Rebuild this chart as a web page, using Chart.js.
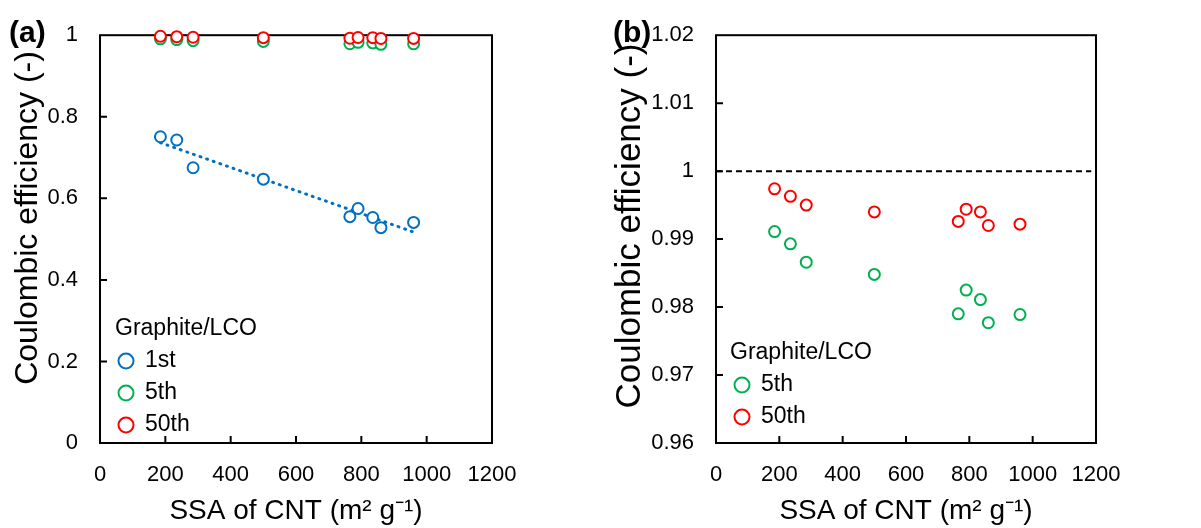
<!DOCTYPE html>
<html>
<head>
<meta charset="utf-8">
<script src="https://cdn.jsdelivr.net/npm/chart.js@4/dist/chart.umd.min.js"></script>
<style>
  body { margin: 0; background: #fff; }
  #wrap { position: relative; width: 1201px; height: 528px; }
  .panel { position: absolute; top: 0; height: 528px; }
  #pa { left: 0; width: 600px; }
  #pb { left: 600px; width: 601px; }
</style>
</head>
<body>
<div id="wrap">
  <div class="panel" id="pa"><canvas id="chartA"></canvas></div>
  <div class="panel" id="pb"><canvas id="chartB"></canvas></div>
</div>
<script>
// data
const ssa = [185, 235, 285, 500, 765, 790, 835, 860, 960];
const ce1st = [0.751, 0.743, 0.675, 0.647, 0.555, 0.575, 0.553, 0.528, 0.541];
const ce5th = [0.9911, 0.9893, 0.9866, 0.9848, 0.9790, 0.9825, 0.9811, 0.9777, 0.9789];
const ce50th = [0.9974, 0.9963, 0.9950, 0.9940, 0.9926, 0.9944, 0.9940, 0.9920, 0.9922];
const seriesNames = ['1st', '5th', '50th'];
const legendTitle = 'Graphite/LCO';
const xTicks = [0, 200, 400, 600, 800, 1000, 1200];
const yTicksA = [0, 0.2, 0.4, 0.6, 0.8, 1];
const yTicksB = [0.96, 0.97, 0.98, 0.99, 1, 1.01, 1.02];
const refLevel = 1;

const FONT = "'Liberation Sans', Arial, sans-serif";
const BLUE = '#0070C0';
const GREEN = '#00B050';
const RED = '#FF0000';

const toPoints = (ys) => ssa.map((x, i) => ({ x: x, y: ys[i] }));

// least squares trend for the 1st cycle
function trend(xs, ys) {
  const n = xs.length;
  const mx = xs.reduce((s, v) => s + v, 0) / n;
  const my = ys.reduce((s, v) => s + v, 0) / n;
  let sxy = 0, sxx = 0;
  xs.forEach((x, i) => {
    sxy += (x - mx) * (ys[i] - my);
    sxx += (x - mx) * (x - mx);
  });
  const k = sxy / sxx;
  const lo = Math.min(...xs), hi = Math.max(...xs);
  return [{ x: lo, y: my + k * (lo - mx) }, { x: hi, y: my + k * (hi - mx) }];
}

const fmt = (v) => String(Number(v.toFixed(2)));

const decor = {
  id: 'decor',
  beforeDatasetsDraw(chart, args, opts) {
    const { ctx, chartArea: a, scales: { x, y } } = chart;
    ctx.save();
    ctx.strokeStyle = '#000';
    ctx.lineWidth = 2;
    ctx.strokeRect(a.left, a.top, a.right - a.left, a.bottom - a.top);
    ctx.beginPath();
    x.ticks.forEach((t) => {
      const px = x.getPixelForValue(t.value);
      if (px > a.left + 2 && px < a.right - 2) {
        ctx.moveTo(px, a.bottom);
        ctx.lineTo(px, a.bottom - 7);
      }
    });
    y.ticks.forEach((t) => {
      const py = y.getPixelForValue(t.value);
      if (py > a.top + 2 && py < a.bottom - 2) {
        ctx.moveTo(a.left, py);
        ctx.lineTo(a.left + 7, py);
      }
    });
    ctx.stroke();
    ctx.restore();
  },
  afterDraw(chart, args, opts) {
    const { ctx, chartArea: a } = chart;
    ctx.save();
    ctx.fillStyle = '#000';
    // panel label
    ctx.font = 'bold 30px ' + FONT;
    ctx.textBaseline = 'middle';
    ctx.textAlign = 'left';
    ctx.fillText(opts.label, opts.labelX, 34);
    // y title
    ctx.save();
    ctx.translate(opts.yTitleX, opts.yTitleY);
    ctx.rotate(-Math.PI / 2);
    ctx.textAlign = 'center';
    ctx.font = opts.yTitleSize + 'px ' + FONT;
    ctx.fillText(opts.yTitle, 0, 0);
    ctx.restore();
    // legend
    const lg = opts.legend;
    const n = lg.names.length;
    ctx.font = '23px ' + FONT;
    ctx.textAlign = 'left';
    ctx.fillText(legendTitle, a.left + lg.titleDx, a.bottom - lg.bottom - n * lg.step);
    lg.names.forEach((name, i) => {
      const cy = a.bottom - lg.bottom - (n - 1 - i) * lg.step;
      ctx.beginPath();
      ctx.arc(a.left + 26, cy, 7.5, 0, Math.PI * 2);
      ctx.strokeStyle = lg.colors[i];
      ctx.lineWidth = 2;
      ctx.stroke();
      ctx.fillStyle = '#000';
      ctx.fillText(name, a.left + 45, cy);
    });
    ctx.restore();
  },
};

function scatterSet(label, ys, color, order) {
  return {
    label: label,
    data: toPoints(ys),
    borderColor: color,
    backgroundColor: '#fff',
    pointRadius: 5.5,
    pointBorderWidth: 2,
    pointStyle: 'circle',
    showLine: false,
    clip: false,
    order: order,
  };
}

function makeScales(yTicks, yWidth) {
  return {
    x: {
      type: 'linear',
      min: xTicks[0],
      max: xTicks[xTicks.length - 1],
      afterBuildTicks: (s) => { s.ticks = xTicks.map((v) => ({ value: v })); },
      afterFit: (s) => { s.height = 85; },
      grid: { display: false, drawTicks: false },
      border: { display: false },
      ticks: { color: '#000', font: { family: FONT, size: 22 }, padding: 19, maxRotation: 0, callback: fmt },
      title: {
        display: true,
        text: 'SSA of CNT (m\u00B2 g\u207B\u00B9)',
        color: '#000',
        font: { family: FONT, size: 28 },
        padding: { top: 0, bottom: 0 },
      },
    },
    y: {
      type: 'linear',
      min: yTicks[0],
      max: yTicks[yTicks.length - 1],
      afterBuildTicks: (s) => { s.ticks = yTicks.map((v) => ({ value: v })); },
      afterFit: (s) => { s.width = yWidth; },
      grid: { display: false, drawTicks: false },
      border: { display: false },
      ticks: { color: '#000', font: { family: FONT, size: 22 }, padding: 22, callback: fmt },
    },
  };
}

const chartA = new Chart(document.getElementById('chartA'), {
  type: 'scatter',
  data: {
    datasets: [
      scatterSet(seriesNames[2], ce50th, RED, 0),
      scatterSet(seriesNames[1], ce5th, GREEN, 1),
      scatterSet(seriesNames[0], ce1st, BLUE, 2),
      {
        label: 'trend',
        data: trend(ssa, ce1st),
        type: 'line',
        borderColor: BLUE,
        borderWidth: 3,
        borderDash: [1, 6],
        borderCapStyle: 'round',
        pointRadius: 0,
        order: 3,
      },
    ],
  },
  options: {
    responsive: true,
    maintainAspectRatio: false,
    animation: false,
    layout: { padding: { top: 26, right: 108, left: 0, bottom: 0 } },
    scales: makeScales(yTicksA, 100),
    plugins: {
      legend: { display: false },
      tooltip: { enabled: false },
      decor: {
        label: '(a)', labelX: 9,
        yTitle: 'Coulombic efficiency (-)', yTitleSize: 32, yTitleX: 28, yTitleY: 218,
        legend: { names: seriesNames, colors: [BLUE, GREEN, RED], titleDx: 15, bottom: 18, step: 32 },
      },
    },
  },
  plugins: [decor],
});

const chartB = new Chart(document.getElementById('chartB'), {
  type: 'scatter',
  data: {
    datasets: [
      scatterSet(seriesNames[2], ce50th, RED, 0),
      scatterSet(seriesNames[1], ce5th, GREEN, 1),
      {
        label: 'ref',
        data: [{ x: xTicks[0], y: refLevel }, { x: xTicks[xTicks.length - 1] - 15, y: refLevel }],
        type: 'line',
        borderColor: '#000',
        borderWidth: 2,
        borderDash: [6, 4],
        pointRadius: 0,
        order: 3,
      },
    ],
  },
  options: {
    responsive: true,
    maintainAspectRatio: false,
    animation: false,
    layout: { padding: { top: 26, right: 105, left: 0, bottom: 0 } },
    scales: makeScales(yTicksB, 116),
    plugins: {
      legend: { display: false },
      tooltip: { enabled: false },
      decor: {
        label: '(b)', labelX: 13,
        yTitle: 'Coulombic efficiency (-)', yTitleSize: 35, yTitleX: 30, yTitleY: 226,
        legend: { names: seriesNames.slice(1), colors: [GREEN, RED], titleDx: 14, bottom: 26, step: 32 },
      },
    },
  },
  plugins: [decor],
});
</script>
</body>
</html>
